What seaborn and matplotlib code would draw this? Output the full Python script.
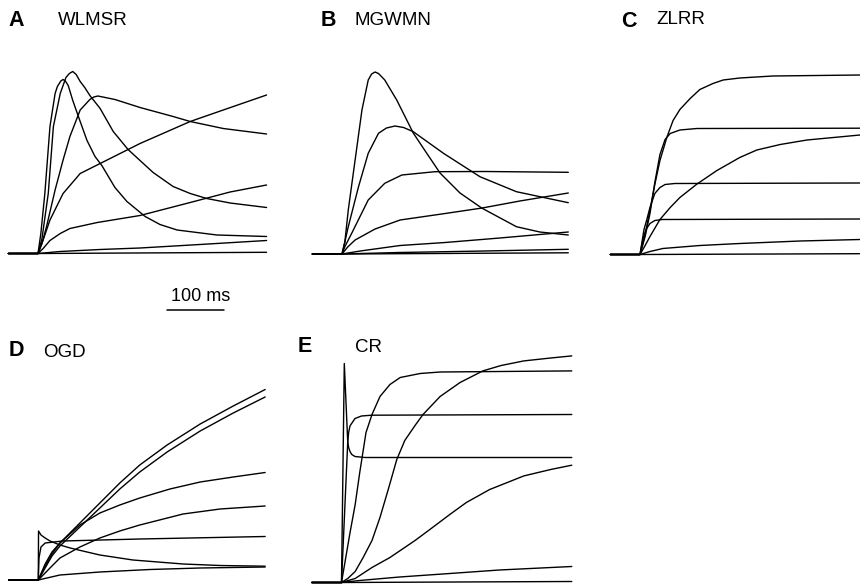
import pandas as pd
import matplotlib
matplotlib.use('Agg')
import matplotlib.pyplot as plt
import seaborn as sns

# Traces: time after stimulus onset (ms), amplitude (arbitrary units, up = larger)
PRE = -52  # start of the pre-stimulus baseline (ms)

# A - WLMSR
A1_T = [0, 5, 12, 21, 30, 34, 40, 44, 48, 53, 61, 74, 86, 100, 112, 135, 156, 188, 214, 244, 314, 401]
A1_Y = [0, 20, 60, 127, 160, 167, 172.5, 174, 172.5, 168, 153, 132, 113, 97, 88, 66, 52, 37, 29, 23.5, 18.5, 17]
A2_T = [0, 7, 18, 27, 39, 49, 55, 61, 67, 74, 82, 91, 109, 132, 158, 179, 202, 237, 267, 296, 337, 401]
A2_Y = [0, 15, 60, 127, 160, 176, 180, 182, 179, 172, 166, 158, 145, 122, 104, 93, 81, 67, 60, 55, 50.5, 46]
A3_T = [0, 7, 15, 30, 44, 56, 74, 91, 98, 105, 118, 135, 179, 237, 267, 325, 401]
A3_Y = [0, 10, 27, 63.5, 93.5, 117, 143.5, 154, 156.5, 157.5, 156, 154, 146, 137, 132, 125, 119.5]
A4_T = [0, 9, 21, 44, 74, 109, 144, 179, 267, 325, 401]
A4_Y = [0, 13.5, 33.5, 60, 80, 90, 100, 110, 132, 143.5, 158.5]
A5_T = [0, 9, 21, 39, 56, 104, 179, 267, 337, 401]
A5_Y = [0, 5, 13, 20, 25, 31, 38, 51, 61.5, 68.5]
A6_T = [0, 39, 109, 179, 284, 401]
A6_Y = [0, 2, 4, 5.5, 9, 13]
A7_T = [0, 401]
A7_Y = [0, 1.2]

# B - MGWMN
B1_T = [0, 5, 11, 23, 35, 46, 52, 58, 64, 70, 75, 96, 125, 146, 172, 207, 245, 306, 347, 397]
B1_Y = [0, 12, 44, 94, 144, 174, 180, 182, 180.5, 177, 174, 154, 121, 103, 81, 61, 46, 27.3, 22, 19]
B2_T = [0, 5, 11, 29, 46, 64, 78, 93, 108, 125, 178, 242, 306, 397]
B2_Y = [0, 12, 27.3, 67.3, 100.7, 120.7, 126, 128, 126.5, 122.3, 100.7, 77.3, 62.3, 51.3]
B3_T = [0, 5, 17, 46, 75, 105, 163, 250, 397]
B3_Y = [0, 7.3, 20.7, 54, 70.7, 79, 82.3, 82.5, 81.7]
B4_T = [0, 10, 23, 58, 102, 181, 246, 312, 397]
B4_Y = [0, 7, 14, 25, 34, 40.5, 46, 53, 61]
B5_T = [0, 32, 102, 181, 277, 397]
B5_Y = [0, 3, 8.5, 11.5, 16, 22]
B6_T = [0, 100, 250, 397]
B6_Y = [0, 1.5, 3, 4.7]
B7_T = [0, 397]
B7_Y = [0, 1.2]

# C - ZLRR
C1_T = [0, 9, 17.5, 26, 35, 47, 58, 70, 88, 105, 128, 146, 175, 233, 386]
C1_Y = [0, 20, 44.5, 70, 94, 117, 134, 145, 156, 165, 171, 174.5, 176.5, 178.5, 179.5]
C2_T = [0, 9, 17.5, 26, 35, 44, 53, 70, 100, 386]
C2_Y = [0, 18, 41, 72, 100, 115, 121, 124.5, 126, 126.3]
C3_T = [0, 9, 17.5, 35, 53, 70, 100, 135, 175, 205, 246, 293, 386]
C3_Y = [0, 9, 18, 35, 47, 57, 70.5, 84, 97, 104.5, 110, 114.5, 119.5]
C4_T = [0, 7, 12, 17.5, 26, 35, 44, 61, 386]
C4_Y = [0, 25, 35, 47, 61, 67, 70, 71, 71.5]
C5_T = [0, 5, 10.5, 17.5, 26, 39, 386]
C5_Y = [0, 15, 25, 31, 34, 35, 35.5]
C6_T = [0, 17.5, 40, 105, 175, 281, 386]
C6_Y = [0, 3, 6, 9, 11, 13.5, 15]
C7_T = [0, 386]
C7_Y = [0, 0.8]

# D - OGD
D1_T = [0, 12, 24, 38, 73, 108, 143, 178, 226, 284, 342, 398]
D1_Y = [0, 14, 26, 37, 57, 77, 97, 115, 135, 156, 174, 190.5]
D2_T = [0, 12, 24, 38, 73, 108, 143, 178, 226, 284, 342, 398]
D2_Y = [0, 12, 24, 34, 53, 72, 91, 108, 128, 149, 167, 183]
D3_T = [0, 12, 24, 38, 73, 108, 143, 178, 231, 284, 342, 398]
D3_Y = [0, 16, 28, 37, 55, 67, 75, 82, 91, 98, 103, 107.5]
D4_T = [0, 20.5, 38, 73, 108, 143, 178, 254, 319, 398]
D4_Y = [0, 12, 22, 33, 42, 49, 55, 66, 71, 74]
D5_T = [0, 1.2, 4.7, 12, 43, 178, 398]
D5_Y = [0, 22, 33, 37, 39, 41, 43.5]
D6_T = [0, 0.4, 4.7, 12, 20.5, 38, 56, 78, 108, 166, 254, 319, 398]
D6_Y = [0, 49, 45, 42, 39, 35, 32, 29, 25, 20, 16, 14.5, 13.8]
D7_T = [0, 38, 108, 196, 284, 398]
D7_Y = [0, 5, 8, 10.5, 12, 13]

# E - CR
E1_T = [0, 4.9, 10.9, 12.5, 14.9, 18, 23.7, 41, 404]
E1_Y = [0, 219, 141, 135, 131, 128, 126, 125, 125]
E2_T = [0, 6, 10.9, 12.5, 14.9, 23.7, 35, 53, 404]
E2_Y = [0, 77, 140, 150, 156.6, 164, 166.5, 167.3, 168]
E3_T = [0, 6, 15, 24, 32, 43, 53.5, 67.5, 85, 103, 138, 173, 404]
E3_Y = [0, 20, 50, 78, 110, 150, 168, 186, 198, 205, 209, 210.5, 211.6]
E4_T = [0, 11, 24, 38, 53.5, 67.5, 82, 97, 111, 129, 143, 173, 208, 248, 280, 320, 367, 404]
E4_Y = [0, 4, 11, 25, 42, 65, 93, 123, 142, 157, 168, 186, 200, 211.6, 217, 221.6, 224.5, 226.6]
E5_T = [0, 24, 53.5, 85, 129, 155, 190, 219, 260, 320, 367, 404]
E5_Y = [0, 4, 15, 25, 42, 53, 68, 80, 93, 106.6, 113, 117.3]
E6_T = [0, 32, 102, 190, 277, 404]
E6_Y = [0, 2, 5.5, 9, 12.5, 16]
E7_T = [0, 404]
E7_Y = [0, 1]

LETTERS = ['A', 'B', 'C', 'D', 'E']
NAMES = ['WLMSR', 'MGWMN', 'ZLRR', 'OGD', 'CR']
SCALE_MS = 100

panels = {
    'A': [(A1_T, A1_Y), (A2_T, A2_Y), (A3_T, A3_Y), (A4_T, A4_Y), (A5_T, A5_Y), (A6_T, A6_Y), (A7_T, A7_Y)],
    'B': [(B1_T, B1_Y), (B2_T, B2_Y), (B3_T, B3_Y), (B4_T, B4_Y), (B5_T, B5_Y), (B6_T, B6_Y), (B7_T, B7_Y)],
    'C': [(C1_T, C1_Y), (C2_T, C2_Y), (C3_T, C3_Y), (C4_T, C4_Y), (C5_T, C5_Y), (C6_T, C6_Y), (C7_T, C7_Y)],
    'D': [(D1_T, D1_Y), (D2_T, D2_Y), (D3_T, D3_Y), (D4_T, D4_Y), (D5_T, D5_Y), (D6_T, D6_Y), (D7_T, D7_Y)],
    'E': [(E1_T, E1_Y), (E2_T, E2_Y), (E3_T, E3_Y), (E4_T, E4_Y), (E5_T, E5_Y), (E6_T, E6_Y), (E7_T, E7_Y)],
}


def to_long(traces):
    rows = []
    for i, (ts, ys) in enumerate(traces):
        rows.append({'trace': i, 't': PRE, 'amp': 0.0})
        for t, y in zip(ts, ys):
            rows.append({'trace': i, 't': t, 'amp': y})
    return pd.DataFrame(rows)


sns.set_theme(style='white')
plt.rcParams['font.family'] = ['Liberation Sans', 'DejaVu Sans']
plt.rcParams['text.color'] = 'black'

W, H = 860, 585
fig = plt.figure(figsize=(W / 100, H / 100), dpi=100)
k = 100 / 57  # ms per pixel

# layout in pixels: left, right, top, bottom, onset x, baseline y
layout = {
    'A': (0, 285, 35, 265, 38, 253.5),
    'B': (295, 590, 35, 265, 342, 254),
    'C': (600, 860, 35, 265, 640, 254.5),
    'D': (0, 285, 355, 585, 38.3, 580),
    'E': (295, 590, 355, 585, 341.5, 582.5),
}
label_pos = {
    'A': (8, 26, 58, 25),
    'B': (321, 26, 355, 25),
    'C': (621, 27, 656, 24),
    'D': (9, 356, 43, 357),
    'E': (298, 352, 355, 352),
}

axes = {}
for letter, name in zip(LETTERS, NAMES):
    L, R, T, B, x0, yb = layout[letter]
    ax = fig.add_axes([L / W, 1 - B / H, (R - L) / W, (B - T) / H])
    df = to_long(panels[letter])
    sns.lineplot(data=df, x='t', y='amp', units='trace', estimator=None,
                 sort=False, color='black', lw=1.0, ax=ax, legend=False)
    ax.set_xlim((L - x0) * k, (R - x0) * k)
    ax.set_ylim(yb - B, yb - T)
    ax.set_axis_off()
    axes[letter] = ax

    lx, ly, nx, ny = label_pos[letter]
    fig.text(lx / W, 1 - ly / H, letter, fontsize=15.5, fontweight='bold',
             color='black', ha='left', va='baseline')
    fig.text(nx / W, 1 - ny / H, name, fontsize=13.5, color='black',
             ha='left', va='baseline')

# scale bar under panel A
ax = axes['A']
x_start = 226
bar_y = -57
ax.plot([x_start, x_start + SCALE_MS], [bar_y, bar_y], color='black', lw=1.1, clip_on=False)
ax.text(x_start + SCALE_MS / 2 + 9, bar_y + 9, f'{SCALE_MS} ms', fontsize=13,
        color='black', ha='center', va='baseline', clip_on=False)

fig.savefig('out.png', dpi=100)
